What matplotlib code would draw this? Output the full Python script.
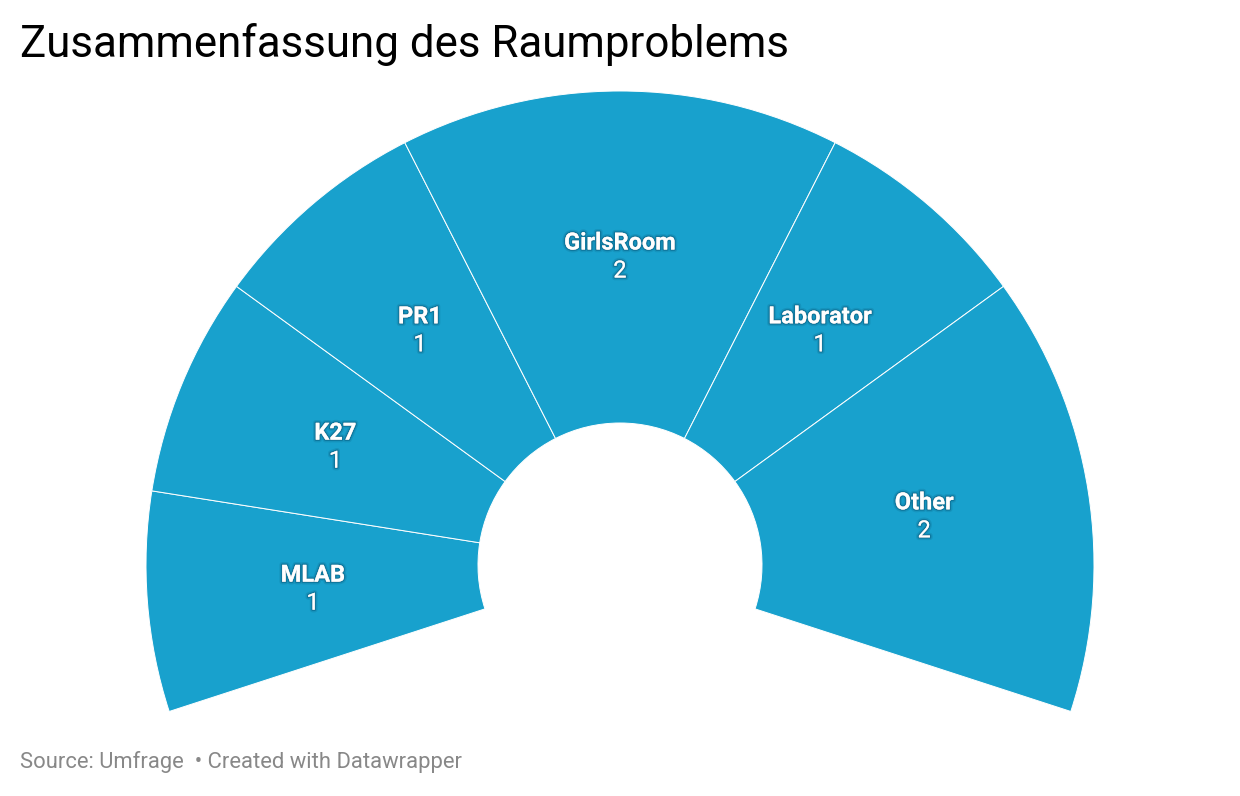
import matplotlib.pyplot as plt
import matplotlib.patheffects as pe
from matplotlib.patches import Wedge
import numpy as np

plt.rcParams['font.family'] = ['Roboto', 'DejaVu Sans']

# Data
rooms = ["MLAB", "K27", "PR1", "GirlsRoom", "Laborator", "Other"]
counts = [1, 1, 1, 2, 1, 2]

color = "#18a1cd"
W, H = 1240, 796

fig = plt.figure(figsize=(W / 100, H / 100), dpi=100)
ax = fig.add_axes([0, 0, 1, 1])
ax.set_xlim(0, W)
ax.set_ylim(0, H)
ax.axis("off")

# arc geometry (pixel space, y measured from bottom)
cx, cy = 620, H - 565
r_out, r_in = 474, 142
span = 216.0
start = 90 + span / 2

total = sum(counts)
angle = start
# soft dark glow behind the labels
shadow = [pe.withStroke(linewidth=4, foreground=(0, 0.2, 0.3, 0.12)),
          pe.withStroke(linewidth=2, foreground=(0, 0.15, 0.25, 0.25))]
for name, val in zip(rooms, counts):
    sweep = span * val / total
    a1, a2 = angle - sweep, angle
    ax.add_patch(Wedge((cx, cy), r_out, a1, a2, width=r_out - r_in,
                       facecolor=color, edgecolor="white", linewidth=0.7))
    mid = np.radians((a1 + a2) / 2)
    rm = (r_out + r_in) / 2
    lx, ly = cx + rm * np.cos(mid), cy + rm * np.sin(mid)
    ax.text(lx, ly + 14, name, ha="center", va="center", fontsize=17,
            fontweight="bold", color="white", path_effects=shadow)
    ax.text(lx, ly - 14, str(val), ha="center", va="center", fontsize=17,
            color="white", path_effects=shadow)
    angle = a1

fig.text(20 / W, 1 - 45 / H, "Zusammenfassung des Raumproblems",
         fontsize=31.6, color="black", ha="left", va="center")
fig.text(20 / W, 1 - 762 / H, "Source: Umfrage  • Created with Datawrapper",
         fontsize=15.8, color="#888888", ha="left", va="center")

fig.savefig("out.png", dpi=100)
